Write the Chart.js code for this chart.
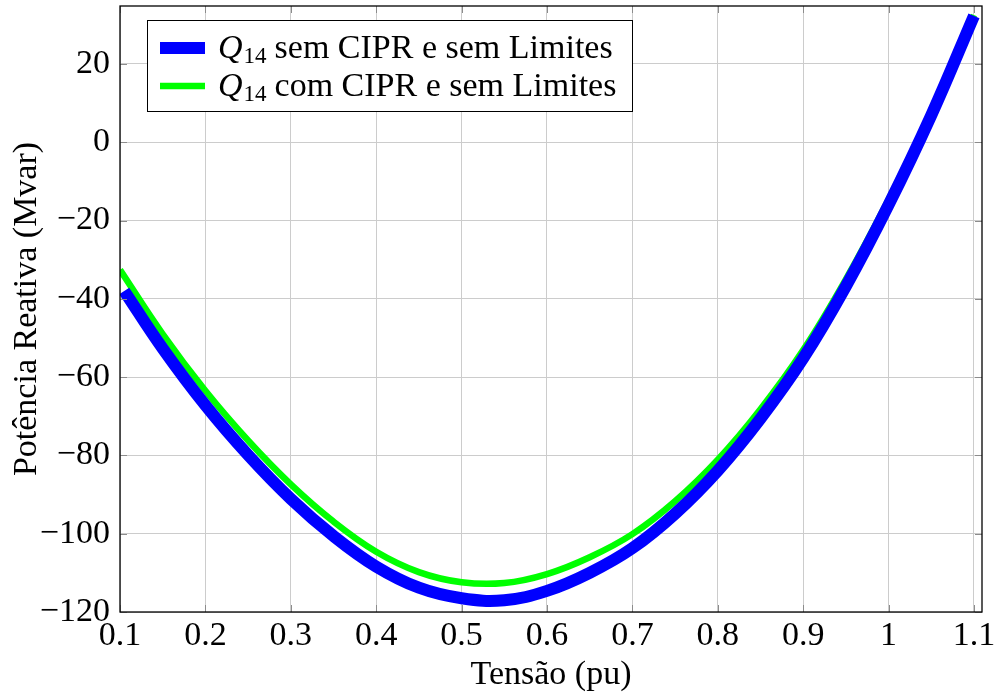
<!DOCTYPE html>
<html lang="pt">
<head>
    <meta charset="UTF-8">
    <title>Potência Reativa x Tensão</title>
    <script src="https://cdn.jsdelivr.net/npm/chart.js"></script>
    <style>
        body { margin: 0; background: #fff; }
    </style>
</head>
<body>
<canvas id="qvChart" width="998" height="698"></canvas>
<script>
    // Tensão (pu) e Q14 (Mvar)
    const tensaoSem = [0.105, 0.15, 0.20, 0.25, 0.30, 0.35, 0.40, 0.45, 0.50, 0.55, 0.60,
                       0.65, 0.70, 0.75, 0.80, 0.85, 0.90, 0.95, 1.00, 1.05, 1.10];
    const q14Sem = [-38.0, -52.7, -67.2, -79.9, -91.1, -100.6, -108.4, -113.8, -116.5, -117.0, -114.6,
                    -110.0, -103.7, -94.9, -83.9, -70.6, -55.2, -36.8, -16.0, 6.9, 32.3];

    const tensaoCom = [0.10, 0.15, 0.20, 0.25, 0.30, 0.35, 0.40, 0.45, 0.50, 0.55, 0.60,
                       0.65, 0.70, 0.75, 0.80, 0.85, 0.90, 0.95, 1.00, 1.05, 1.10];
    const q14Com = [-32.6, -49.0, -63.5, -76.2, -87.4, -96.9, -104.6, -109.8, -112.4, -112.6, -110.3,
                    -106.0, -100.1, -91.7, -81.1, -68.2, -53.1, -35.0, -14.6, 7.8, 32.5];

    const xTicks = [0.1, 0.2, 0.3, 0.4, 0.5, 0.6, 0.7, 0.8, 0.9, 1.0, 1.1];
    const yTicks = [-120, -100, -80, -60, -40, -20, 0, 20];

    const legendLabels = ['sem CIPR e sem Limites', 'com CIPR e sem Limites'];
    const lineColors = ['#0000ff', '#00ff00'];
    const lineWidths = [12, 6.5];

    const FONT = 'Liberation Serif';
    const FSIZE = 34;

    function toPoints(xs, ys) {
        return xs.map((x, i) => ({ x: x, y: ys[i] }));
    }

    // moldura, marcas de escala e legenda dentro da área do gráfico
    const framePlugin = {
        id: 'frame',
        afterDraw(chart) {
            const ctx = chart.ctx;
            const a = chart.chartArea;
            const xs = chart.scales.x, ys = chart.scales.y;
            ctx.save();
            ctx.strokeStyle = '#8c8c8c';
            ctx.lineWidth = 1;
            const tl = 7;
            xTicks.forEach(v => {
                const px = Math.round(xs.getPixelForValue(v)) + 0.5;
                ctx.beginPath();
                ctx.moveTo(px, a.bottom); ctx.lineTo(px, a.bottom - tl);
                ctx.moveTo(px, a.top); ctx.lineTo(px, a.top + tl);
                ctx.stroke();
            });
            yTicks.forEach(v => {
                const py = Math.round(ys.getPixelForValue(v)) + 0.5;
                ctx.beginPath();
                ctx.moveTo(a.left, py); ctx.lineTo(a.left + tl, py);
                ctx.moveTo(a.right, py); ctx.lineTo(a.right - tl, py);
                ctx.stroke();
            });
            ctx.strokeStyle = '#000';
            ctx.lineWidth = 1.3;
            ctx.strokeRect(a.left, a.top, a.right - a.left, a.bottom - a.top);

            // legenda
            const bx = 147, by = 20, bw = 485, bh = 91;
            ctx.fillStyle = '#fff';
            ctx.fillRect(bx, by, bw, bh);
            ctx.strokeStyle = '#000';
            ctx.lineWidth = 1;
            ctx.strokeRect(bx + 0.5, by + 0.5, bw, bh);
            const rows = [48, 86];
            rows.forEach((cy, i) => {
                ctx.strokeStyle = lineColors[i];
                ctx.lineWidth = lineWidths[i];
                ctx.beginPath();
                ctx.moveTo(160, cy); ctx.lineTo(205, cy);
                ctx.stroke();
                ctx.fillStyle = '#000';
                ctx.textBaseline = 'alphabetic';
                ctx.textAlign = 'left';
                const base = cy + 10;
                ctx.font = 'italic ' + FSIZE + 'px ' + FONT;
                ctx.fillText('Q', 218, base);
                let x = 218 + ctx.measureText('Q').width + 1;
                ctx.font = '23px ' + FONT;
                ctx.fillText('14', x, base + 5);
                x += ctx.measureText('14').width + 8;
                ctx.font = FSIZE + 'px ' + FONT;
                ctx.fillText(legendLabels[i], x, base);
            });
            ctx.restore();
        }
    };

    const ctx = document.getElementById('qvChart').getContext('2d');
    const qvChart = new Chart(ctx, {
        type: 'line',
        data: {
            datasets: [
                {
                    label: 'Q14 sem CIPR e sem Limites',
                    data: toPoints(tensaoSem, q14Sem),
                    borderColor: lineColors[0],
                    borderWidth: lineWidths[0],
                    pointRadius: 0,
                    tension: 0.4,
                    fill: false,
                    clip: 0
                },
                {
                    label: 'Q14 com CIPR e sem Limites',
                    data: toPoints(tensaoCom, q14Com),
                    borderColor: lineColors[1],
                    borderWidth: lineWidths[1],
                    pointRadius: 0,
                    tension: 0.4,
                    fill: false,
                    clip: 0
                }
            ]
        },
        options: {
            responsive: false,
            animation: false,
            layout: { padding: { left: 0, right: 16, top: 6, bottom: 0 } },
            plugins: {
                legend: { display: false },
                tooltip: { enabled: false }
            },
            scales: {
                x: {
                    type: 'linear',
                    min: 0.1,
                    max: 1.1094,
                    afterFit(scale) {
                        scale.height = 86;
                        scale.paddingLeft = 0;
                        scale.paddingRight = 0;
                    },
                    grid: { color: '#cccccc', lineWidth: 1, drawTicks: false },
                    border: { display: false },
                    ticks: {
                        stepSize: 0.1,
                        includeBounds: false,
                        maxRotation: 0,
                        padding: 4,
                        color: '#000',
                        font: { family: FONT, size: FSIZE },
                        callback: v => Number(v.toFixed(2)).toString()
                    },
                    title: {
                        display: true,
                        text: 'Tensão (pu)',
                        color: '#000',
                        font: { family: FONT, size: FSIZE },
                        padding: { top: 0, bottom: 3 }
                    }
                },
                y: {
                    type: 'linear',
                    min: -120,
                    max: 34.8,
                    afterFit(scale) {
                        scale.width = 120;
                        scale.paddingTop = 0;
                        scale.paddingBottom = 0;
                    },
                    grid: { color: '#cccccc', lineWidth: 1, drawTicks: false },
                    border: { display: false },
                    ticks: {
                        stepSize: 20,
                        includeBounds: false,
                        padding: 10,
                        color: '#000',
                        font: { family: FONT, size: FSIZE },
                        callback: v => v < 0 ? '\u2212' + Math.abs(v) : String(v)
                    },
                    title: {
                        display: true,
                        text: 'Potência Reativa (Mvar)',
                        color: '#000',
                        font: { family: FONT, size: FSIZE },
                        padding: { top: 7, bottom: 0 }
                    }
                }
            }
        },
        plugins: [framePlugin]
    });
</script>
</body>
</html>
